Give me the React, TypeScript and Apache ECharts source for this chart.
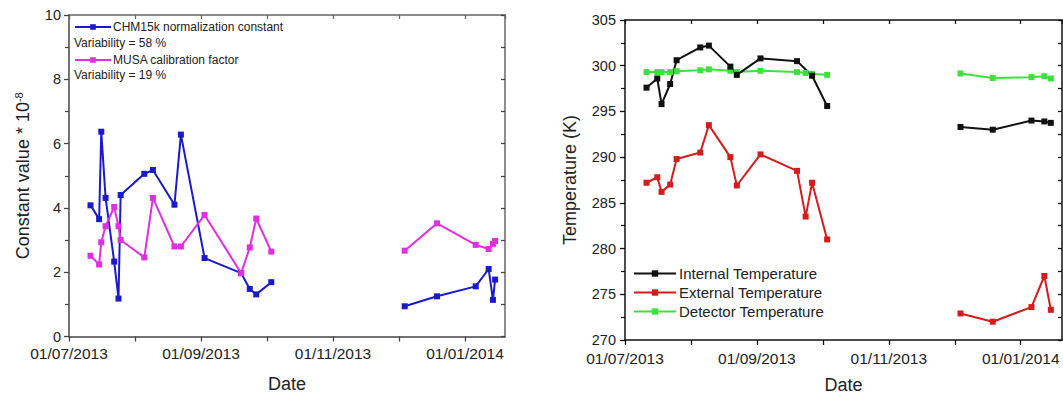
import React, { useEffect, useRef } from "react";
import * as echarts from "echarts";

// ---------- data ----------
const xTickLabels = ["01/07/2013", "01/09/2013", "01/11/2013", "01/01/2014"];

const leftDates1 = ["2013-07-11", "2013-07-15", "2013-07-16", "2013-07-18", "2013-07-22", "2013-07-24", "2013-07-25", "2013-08-05", "2013-08-09", "2013-08-19", "2013-08-22", "2013-09-02", "2013-09-19", "2013-09-23", "2013-09-26", "2013-10-03"];
const leftDates2 = ["2013-12-04", "2013-12-19", "2014-01-06", "2014-01-12", "2014-01-14", "2014-01-15"];
const chmValues1 = [4.08, 3.65, 6.37, 4.31, 2.33, 1.18, 4.4, 5.06, 5.18, 4.1, 6.28, 2.44, 1.97, 1.48, 1.31, 1.69];
const chmValues2 = [0.94, 1.25, 1.56, 2.1, 1.14, 1.77];
const musaValues1 = [2.51, 2.24, 2.93, 3.43, 4.03, 3.43, 3.0, 2.46, 4.31, 2.8, 2.8, 3.78, 1.97, 2.77, 3.67, 2.64];
const musaValues2 = [2.67, 3.52, 2.85, 2.72, 2.88, 2.97];

const intDates1 = ["2013-07-11", "2013-07-16", "2013-07-18", "2013-07-22", "2013-07-25", "2013-08-05", "2013-08-09", "2013-08-19", "2013-08-22", "2013-09-02", "2013-09-19", "2013-09-26", "2013-10-03"];
const intValues1 = [297.6, 298.6, 295.8, 298.0, 300.6, 302.0, 302.2, 299.9, 299.0, 300.8, 300.5, 298.9, 295.6];
const extDates1 = ["2013-07-11", "2013-07-16", "2013-07-18", "2013-07-22", "2013-07-25", "2013-08-05", "2013-08-09", "2013-08-19", "2013-08-22", "2013-09-02", "2013-09-19", "2013-09-23", "2013-09-26", "2013-10-03"];
const extValues1 = [287.2, 287.8, 286.2, 287.0, 289.8, 290.5, 293.5, 290.0, 286.9, 290.3, 288.5, 283.5, 287.2, 281.0];
const detValues1 = [299.3, 299.3, 299.3, 299.3, 299.4, 299.5, 299.6, 299.45, 299.3, 299.45, 299.3, 299.2, 299.1, 299.0];
const rightDates2 = ["2013-12-04", "2013-12-19", "2014-01-06", "2014-01-12", "2014-01-15"];
const intValues2 = [293.3, 293.0, 294.0, 293.9, 293.75];
const extValues2 = [272.9, 272.0, 273.6, 277.0, 273.3];
const detValues2 = [299.15, 298.65, 298.75, 298.85, 298.6];

// ---------- helpers ----------
const ORIGIN = Date.UTC(2013, 6, 1);
const toDays = (s: string) => {
  const [y, m, d] = s.split("-").map(Number);
  return (Date.UTC(y, m - 1, d) - ORIGIN) / 86400000;
};
const pairs = (dates: string[], vals: number[]) => dates.map((d, i) => [toDays(d), vals[i]]);

const MONTH = 184 / 6;
const FONT = "'Liberation Sans', Arial, sans-serif";
const xLabelFmt = (v: number) => {
  const k = v / (2 * MONTH);
  const r = Math.round(k);
  if (Math.abs(k - r) > 0.01) return "";
  return xTickLabels[r] ?? "";
};

const BLUE = "#1a1acc";
const MAGENTA = "#e22ee2";
const BLACK = "#111111";
const RED = "#d41c1c";
const GREEN = "#3ee03e";

export default function App() {
  const ref = useRef<HTMLDivElement>(null);
  useEffect(() => {
    if (!ref.current) return;
    const chart = echarts.init(ref.current, undefined, { renderer: "svg" });

    const mkX = (gridIndex: number, max: number, top: boolean, color: string, withName: boolean) => ({
      type: "value",
      gridIndex,
      position: top ? "top" : "bottom",
      min: 0,
      max,
      interval: MONTH,
      name: withName ? "Date" : "",
      nameLocation: "middle",
      nameGap: gridIndex === 0 ? 38 : 36,
      nameTextStyle: { fontSize: 18, color: "#222", fontFamily: FONT },
      axisLine: { show: true, onZero: false, lineStyle: { color, width: 1.5 } },
      axisTick: { show: true, inside: top, length: top ? 4 : 5, lineStyle: { color, width: 1.3 } },
      axisLabel: {
        show: !top,
        formatter: xLabelFmt,
        fontSize: 15.5,
        color: "#222",
        fontFamily: FONT,
        margin: gridIndex === 0 ? 9 : 10,
        showMaxLabel: false,
      },
      splitLine: { show: false },
    });

    const option: any = {
      animation: false,
      textStyle: { fontFamily: FONT },
      grid: [
        { left: 69, top: 15, width: 436, height: 321.5 },
        { left: 625, top: 20, width: 437, height: 321.5 },
      ],
      xAxis: [
        mkX(0, 202.6, false, "#444", true),
        mkX(0, 202.6, true, "#666", false),
        mkX(1, 203.2, false, "#111", true),
        mkX(1, 203.2, true, "#111", false),
      ],
      yAxis: [
        {
          type: "value",
          gridIndex: 0,
          min: 0,
          max: 10,
          interval: 2,
          name: "Constant value * 10{sup|-8}",
          nameLocation: "middle",
          nameGap: 37,
          nameTextStyle: {
            fontSize: 18,
            color: "#222",
            fontFamily: FONT,
            rich: { sup: { fontSize: 11, verticalAlign: "top", color: "#222", fontFamily: FONT, padding: [0, 0, 8, 0] } },
          },
          axisLine: { show: true, onZero: false, lineStyle: { color: "#444", width: 1.5 } },
          axisTick: { show: true, length: 5, lineStyle: { color: "#444", width: 1.3 } },
          minorTick: { show: true, splitNumber: 2, length: 4, lineStyle: { color: "#444", width: 1.2 } },
          axisLabel: { fontSize: 14.5, color: "#222", fontFamily: FONT, margin: 8 },
          splitLine: { show: false },
          minorSplitLine: { show: false },
        },
        {
          type: "value",
          gridIndex: 0,
          position: "right",
          min: 0,
          max: 10,
          interval: 1,
          axisLine: { show: true, onZero: false, lineStyle: { color: "#666", width: 1.5 } },
          axisTick: { show: true, inside: true, length: 4, lineStyle: { color: "#444", width: 1.3 } },
          axisLabel: { show: false },
          splitLine: { show: false },
        },
        {
          type: "value",
          gridIndex: 1,
          min: 270,
          max: 305,
          interval: 5,
          name: "Temperature (K)",
          nameLocation: "middle",
          nameGap: 46,
          nameTextStyle: { fontSize: 18, color: "#222", fontFamily: FONT },
          axisLine: { show: true, onZero: false, lineStyle: { color: "#111", width: 1.5 } },
          axisTick: { show: true, length: 5, lineStyle: { color: "#111", width: 1.3 } },
          minorTick: { show: true, splitNumber: 2, length: 4, lineStyle: { color: "#111", width: 1.2 } },
          axisLabel: { fontSize: 14.5, color: "#222", fontFamily: FONT, margin: 9 },
          splitLine: { show: false },
          minorSplitLine: { show: false },
        },
        {
          type: "value",
          gridIndex: 1,
          position: "right",
          min: 270,
          max: 305,
          interval: 2.5,
          axisLine: { show: true, onZero: false, lineStyle: { color: "#111", width: 1.5 } },
          axisTick: { show: true, inside: true, length: 4, lineStyle: { color: "#111", width: 1.3 } },
          axisLabel: { show: false },
          splitLine: { show: false },
        },
      ],
      legend: [
        {
          left: 69,
          top: 16,
          orient: "vertical",
          data: ["CHM15k normalization constant"],
          itemWidth: 36,
          itemHeight: 7,
          textStyle: { fontSize: 12, color: "#222", fontFamily: FONT, padding: [0, 0, 0, -3] },
        },
        {
          left: 69,
          top: 49,
          orient: "vertical",
          data: ["MUSA calibration factor"],
          itemWidth: 36,
          itemHeight: 7,
          textStyle: { fontSize: 12, color: "#222", fontFamily: FONT, padding: [0, 0, 0, -3] },
        },
        {
          left: 628,
          top: 261,
          orient: "vertical",
          itemGap: 4,
          data: ["Internal Temperature", "External Temperature", "Detector Temperature"],
          itemWidth: 42,
          itemHeight: 8,
          textStyle: { fontSize: 15, color: "#222", fontFamily: FONT, padding: [0, 0, 0, -2] },
        },
      ],
      graphic: [
        { type: "text", left: 74, top: 37, style: { text: "Variability = 58 %", fontSize: 12, fill: "#222", fontFamily: FONT } },
        { type: "text", left: 74, top: 69, style: { text: "Variability = 19 %", fontSize: 12, fill: "#222", fontFamily: FONT } },
      ],
      series: [] as any[],
    };

    const addSeries = (name: string, color: string, xi: number, yi: number, data: number[][]) => {
      option.series.push({
        type: "line",
        name,
        xAxisIndex: xi,
        yAxisIndex: yi,
        data,
        symbol: "rect",
        symbolSize: 6,
        showSymbol: true,
        itemStyle: { color },
        lineStyle: { color, width: 2 },
        emphasis: { disabled: true },
      });
    };

    addSeries("CHM15k normalization constant", BLUE, 0, 0, pairs(leftDates1, chmValues1));
    addSeries("CHM15k normalization constant", BLUE, 0, 0, pairs(leftDates2, chmValues2));
    addSeries("MUSA calibration factor", MAGENTA, 0, 0, pairs(leftDates1, musaValues1));
    addSeries("MUSA calibration factor", MAGENTA, 0, 0, pairs(leftDates2, musaValues2));

    addSeries("Detector Temperature", GREEN, 2, 2, pairs(extDates1, detValues1));
    addSeries("Detector Temperature", GREEN, 2, 2, pairs(rightDates2, detValues2));
    addSeries("Internal Temperature", BLACK, 2, 2, pairs(intDates1, intValues1));
    addSeries("Internal Temperature", BLACK, 2, 2, pairs(rightDates2, intValues2));
    addSeries("External Temperature", RED, 2, 2, pairs(extDates1, extValues1));
    addSeries("External Temperature", RED, 2, 2, pairs(rightDates2, extValues2));

    chart.setOption(option);
    return () => chart.dispose();
  }, []);

  return (
    <div
      ref={ref}
      style={{ position: "absolute", left: 0, top: 0, width: 1063, height: 399, background: "#fff" }}
    />
  );
}
